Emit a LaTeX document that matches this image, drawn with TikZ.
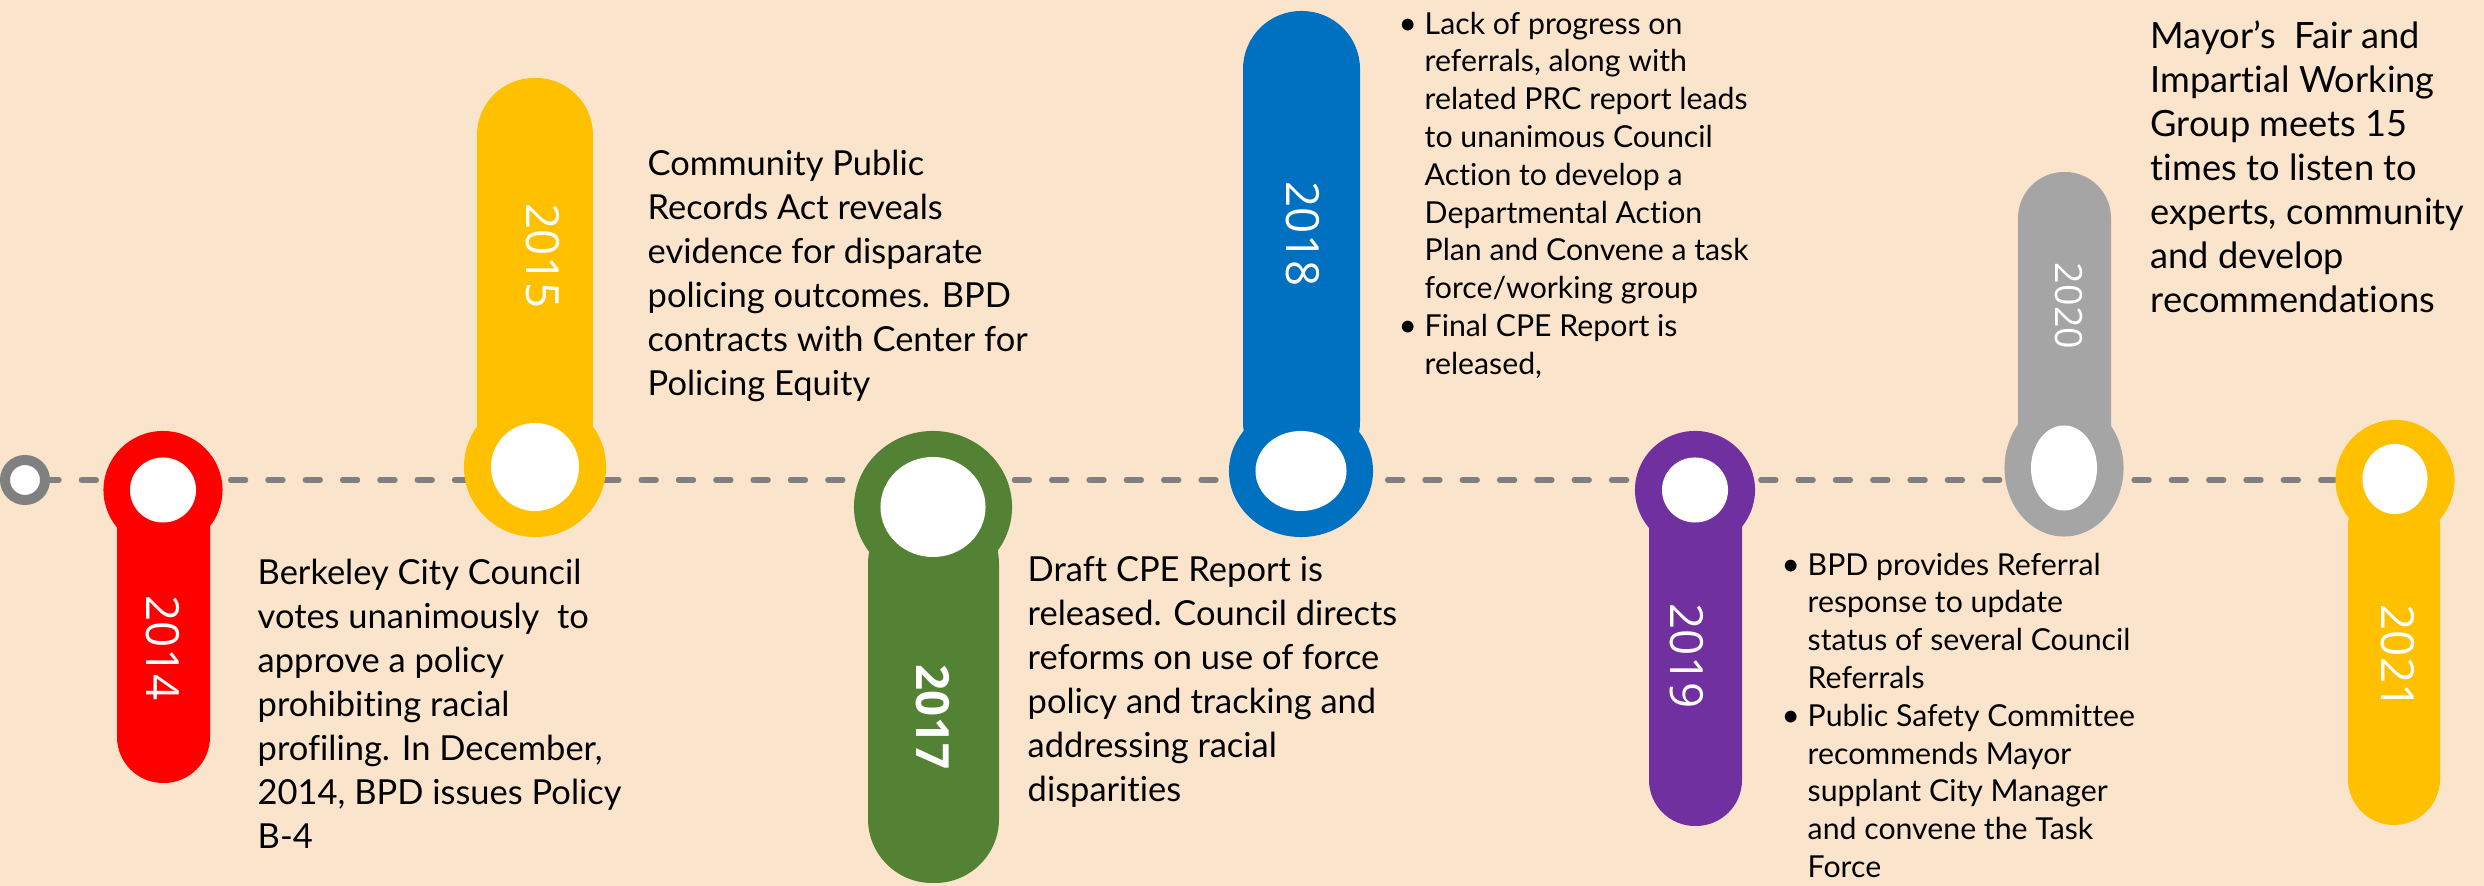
\documentclass[tikz,border=0pt]{standalone}
\usepackage{fontspec}
\setmainfont{Lato}[Ligatures = NoCommon]
\newfontfamily\yearfont{Open Sans}
\usepackage{tikz}
\usetikzlibrary{shapes.geometric}

\definecolor{peach}{HTML}{FBE4CC}
\definecolor{tlgray}{HTML}{808080}
\definecolor{pinred}{HTML}{FF0000}
\definecolor{pinyellow}{HTML}{FFC000}
\definecolor{pingreen}{HTML}{548235}
\definecolor{pinblue}{HTML}{0070C0}
\definecolor{pinpurple}{HTML}{7030A0}
\definecolor{pingray}{HTML}{A5A5A5}

\pgfdeclarelayer{bg}
\pgfdeclarelayer{track}
\pgfsetlayers{bg,track,main}

\tikzset{
	head/.style = {ellipse, fill = #1, inner sep = 0pt},
	hole/.style = {ellipse, fill = white, inner sep = 0pt},
	year/.style = {text = white, rotate = -90, inner sep = 0pt,
		font = \yearfont\fontsize{13}{13}\selectfont},
	note/.style = {anchor = north west, inner sep = 0pt, text = black,
		font = \fontsize{9.8}{12.52}\selectfont},
	small note/.style = {anchor = north west, inner sep = 0pt, text = black,
		font = \fontsize{8.6}{10.75}\selectfont},
	track/.style = {draw = tlgray, line width = 0.053cm, line cap = round,
		dash pattern = on 0.15cm off 0.223cm, dash phase = 0.06cm}
}

\newcommand{\dotline}{\makebox[0.26cm][l]{\small\textbullet}}

\begin{document}
\begin{tikzpicture}[x = 0.01cm, y = -0.01cm]
		\useasboundingbox (0, 0) rectangle (2484, 886);
		\begin{pgfonlayer}{bg}
		\fill [peach] (0, 0) rectangle (2484, 886);
		\end{pgfonlayer}
		
		\node (start) [circle, draw = tlgray, line width = 0.1cm, fill = white,
			minimum size = 0.4cm, inner sep = 0pt] at (25, 480) {};
		
		% bars first, heads on top of them
		\fill [pinred, rounded corners = 0.46cm] (117, 480) rectangle (210, 783);
		\fill [pinyellow, rounded corners = 0.57cm] (477, 78) rectangle (593, 480);
		\fill [pingreen, rounded corners = 0.64cm] (868, 500) rectangle (999, 883);
		\fill [pinblue, rounded corners = 0.58cm] (1243, 11) rectangle (1360, 480);
		\fill [pinpurple, rounded corners = 0.46cm] (1649, 480) rectangle (1742, 826);
		\fill [pingray, rounded corners = 0.46cm] (2018, 172) rectangle (2111, 480);
		\fill [pinyellow, rounded corners = 0.46cm] (2348, 480) rectangle (2440, 825);
		
		\node (h2014) [head = pinred, minimum width = 1.19cm, minimum height = 1.18cm] at (163, 490) {};
		\node (h2015) [head = pinyellow, minimum width = 1.42cm, minimum height = 1.40cm] at (535, 467) {};
		\node (h2017) [head = pingreen, minimum width = 1.58cm, minimum height = 1.52cm] at (933, 507) {};
		\node (h2018) [head = pinblue, minimum width = 1.44cm, minimum height = 1.32cm] at (1301, 471) {};
		\node (h2019) [head = pinpurple, minimum width = 1.20cm, minimum height = 1.18cm] at (1695, 490) {};
		\node (h2020) [head = pingray, minimum width = 1.19cm, minimum height = 1.37cm] at (2064, 468) {};
		\node (h2021) [head = pinyellow, minimum width = 1.19cm, minimum height = 1.20cm] at (2395, 480) {};
		
		\node [hole, minimum width = 0.66cm, minimum height = 0.65cm] at (h2014) {};
		\node [hole, minimum width = 0.88cm, minimum height = 0.88cm] at (h2015) {};
		\node [hole, minimum width = 1.05cm, minimum height = 1.00cm] at (h2017) {};
		\node [hole, minimum width = 0.91cm, minimum height = 0.80cm] at (h2018) {};
		\node [hole, minimum width = 0.66cm, minimum height = 0.65cm] at (h2019) {};
		\node [hole, minimum width = 0.66cm, minimum height = 0.85cm] at (h2020) {};
		\node [hole, minimum width = 0.65cm, minimum height = 0.70cm] at (2395, 479) {};
		
		\begin{pgfonlayer}{track}
		\draw [track] (start.east) -- (h2021.west);
		\end{pgfonlayer}
		
		\node (y2014) [year] at (163, 648) {2014};
		\node (y2015) [year] at (543, 256) {2015};
		\node (y2017) [year, font = \yearfont\bfseries\fontsize{13}{13}\selectfont] at (933, 717) {2017};
		\node (y2018) [year] at (1303, 234) {2018};
		\node (y2019) [year] at (1687, 656) {2019};
		\node (y2020) [year, font = \yearfont\fontsize{10.7}{10.7}\selectfont] at (2069, 306) {2020};
		\node (y2021) [year] at (2398, 657) {2021};
		
		\node (t2014) [note] at (257, 553) {\begin{tabular}{@{}l@{}}
			Berkeley City Council\\
			votes unanimously\ \ to\\
			approve a policy\\
			prohibiting racial\\
			profiling. In December,\\
			2014, BPD issues Policy\\
			B-4
		\end{tabular}};
		
		\node (t2015) [note] at (647, 144) {\begin{tabular}{@{}l@{}}
			Community Public\\
			Records Act reveals\\
			evidence for disparate\\
			policing outcomes. BPD\\
			contracts with Center for\\
			Policing Equity
		\end{tabular}};
		
		\node (t2017) [note] at (1027, 550) {\begin{tabular}{@{}l@{}}
			Draft CPE Report is\\
			released. Council directs\\
			reforms on use of force\\
			policy and tracking and\\
			addressing racial\\
			disparities
		\end{tabular}};
		
		\node (t2018) [small note] at (1398, 7) {\begin{tabular}{@{}l@{}l@{}}
			\dotline & Lack of progress on\\
			& referrals, along with\\
			& related PRC report leads\\
			& to unanimous Council\\
			& Action to develop a\\
			& Departmental Action\\
			& Plan and Convene a task\\
			& force/working group\\
			\dotline & Final CPE Report is\\
			& released,
		\end{tabular}};
		
		\node (t2019) [small note] at (1781, 548) {\begin{tabular}{@{}l@{}l@{}}
			\dotline & BPD provides Referral\\
			& response to update\\
			& status of several Council\\
			& Referrals\\
			\dotline & Public Safety Committee\\
			& recommends Mayor\\
			& supplant City Manager\\
			& and convene the Task\\
			& Force
		\end{tabular}};
		
		\node (t2020) [note, font = \fontsize{10.3}{12.52}\selectfont] at (2150, 17) {\begin{tabular}{@{}l@{}}
			Mayor’s\ \ Fair and\\
			Impartial Working\\
			Group meets 15\\
			times to listen to\\
			experts, community\\
			and develop\\
			recommendations
		\end{tabular}};
		
		\end{tikzpicture}
\end{document}
